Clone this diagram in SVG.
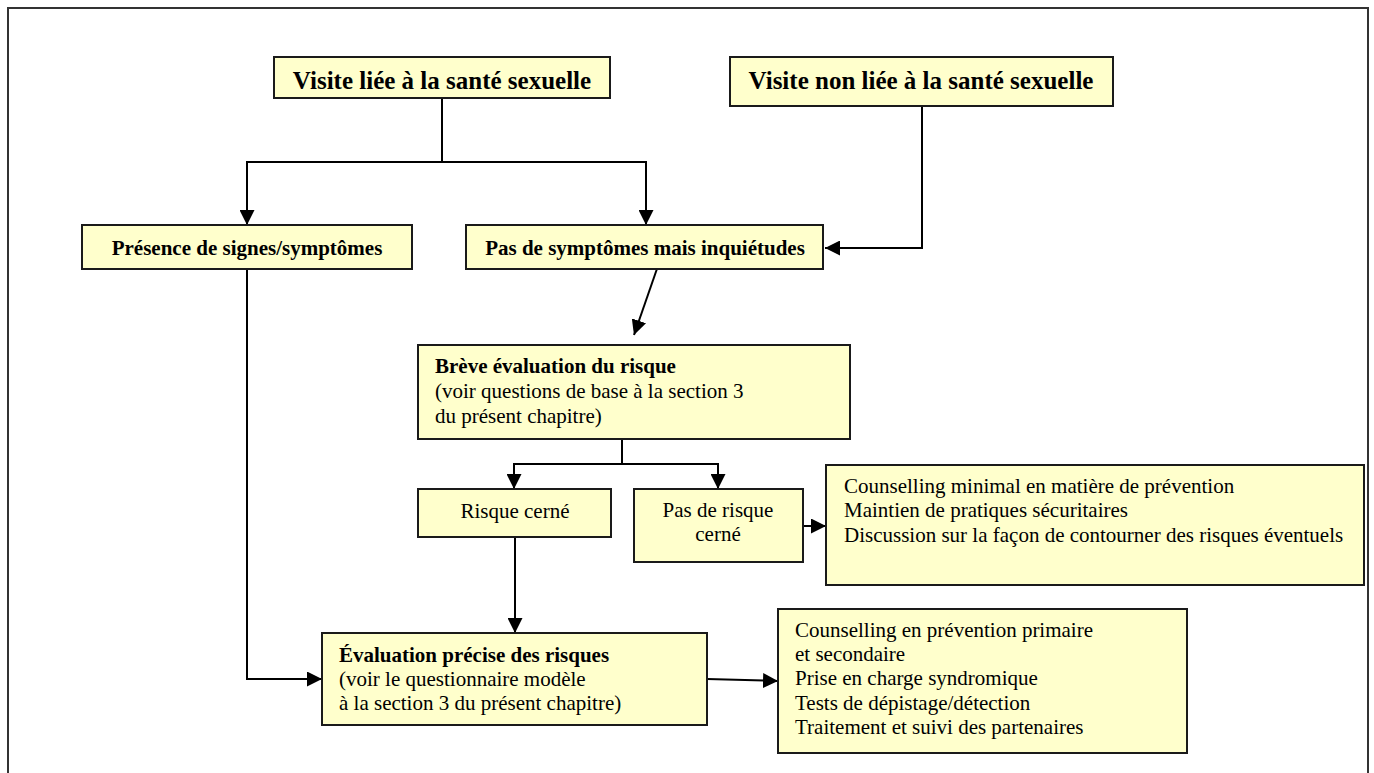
<svg xmlns="http://www.w3.org/2000/svg" width="1374" height="773" viewBox="0 0 1374 773">
<style>
.box{fill:#FFFFCC;stroke:#1a1a1a;stroke-width:2}
.t{font-family:"Liberation Serif","Times New Roman",serif;font-size:21px;fill:#000}
.b{font-weight:bold}
.title{font-family:"Liberation Serif","Times New Roman",serif;font-size:25px;font-weight:bold;fill:#000}
.c{fill:none;stroke:#000;stroke-width:2}
.mid{text-anchor:middle}
</style>
<defs>
<marker id="ah" markerUnits="userSpaceOnUse" markerWidth="15" markerHeight="15" refX="15" refY="7.5" orient="auto">
<path d="M0,0 L15,7.5 L0,15 z" fill="#000"/>
</marker>
</defs>
<rect x="8" y="8" width="1360" height="800" fill="none" stroke="#333" stroke-width="2"/>
<g id="connectors">
<path class="c" d="M442,98 V162 H247 V225" marker-end="url(#ah)"/>
<path class="c" d="M442,162 H646 V225" marker-end="url(#ah)"/>
<path class="c" d="M922,106 V248 H825" marker-end="url(#ah)"/>
<path class="c" d="M659,263 L634,335" marker-end="url(#ah)"/>
<path class="c" d="M622,464 V424" marker-end="url(#ah)"/>
<path class="c" d="M622,464 H514 V489" marker-end="url(#ah)"/>
<path class="c" d="M622,464 H718 V489" marker-end="url(#ah)"/>
<path class="c" d="M803,526 H826" marker-end="url(#ah)"/>
<path class="c" d="M515,537 V633" marker-end="url(#ah)"/>
<path class="c" d="M247,269 V679 H322" marker-end="url(#ah)"/>
<path class="c" d="M707,679 L778,681" marker-end="url(#ah)"/>
</g>
<g id="visite-liee">
<rect class="box" x="274" y="57" width="336" height="41"/>
<text class="title mid" x="442" y="89">Visite liée à la santé sexuelle</text>
</g>
<g id="visite-non-liee">
<rect class="box" x="730" y="57" width="383" height="49"/>
<text class="title mid" x="921" y="89">Visite non liée à la santé sexuelle</text>
</g>
<g id="presence">
<rect class="box" x="82" y="225" width="330" height="44"/>
<text class="t b mid" x="247" y="255">Présence de signes/symptômes</text>
</g>
<g id="pas-symptomes">
<rect class="box" x="466" y="225" width="357" height="44"/>
<text class="t b mid" x="645" y="255">Pas de symptômes mais inquiétudes</text>
</g>
<g id="breve">
<rect class="box" x="418" y="345" width="432" height="94"/>
<text class="t b" x="435" y="373">Brève évaluation du risque</text>
<text class="t" x="435" y="398">(voir questions de base à la section 3</text>
<text class="t" x="435" y="423">du présent chapitre)</text>
</g>
<g id="risque-cerne">
<rect class="box" x="418" y="489" width="193" height="48"/>
<text class="t mid" x="515" y="518">Risque cerné</text>
</g>
<g id="pas-risque">
<rect class="box" x="634" y="489" width="169" height="73"/>
<text class="t mid" x="718" y="517">Pas de risque</text>
<text class="t mid" x="718" y="541">cerné</text>
</g>
<g id="counselling-minimal">
<rect class="box" x="826" y="465" width="538" height="120"/>
<text class="t" x="844" y="493">Counselling minimal en matière de prévention</text>
<text class="t" x="844" y="517">Maintien de pratiques sécuritaires</text>
<text class="t" x="844" y="542">Discussion sur la façon de contourner des risques éventuels</text>
</g>
<g id="evaluation-precise">
<rect class="box" x="322" y="633" width="385" height="92"/>
<text class="t b" x="339" y="662">Évaluation précise des risques</text>
<text class="t" x="339" y="686">(voir le questionnaire modèle</text>
<text class="t" x="339" y="710">à la section 3 du présent chapitre)</text>
</g>
<g id="counselling-primaire">
<rect class="box" x="778" y="609" width="409" height="144"/>
<text class="t" x="795" y="637">Counselling en prévention primaire</text>
<text class="t" x="795" y="661">et secondaire</text>
<text class="t" x="795" y="685">Prise en charge syndromique</text>
<text class="t" x="795" y="710">Tests de dépistage/détection</text>
<text class="t" x="795" y="734">Traitement et suivi des partenaires</text>
</g>
</svg>
